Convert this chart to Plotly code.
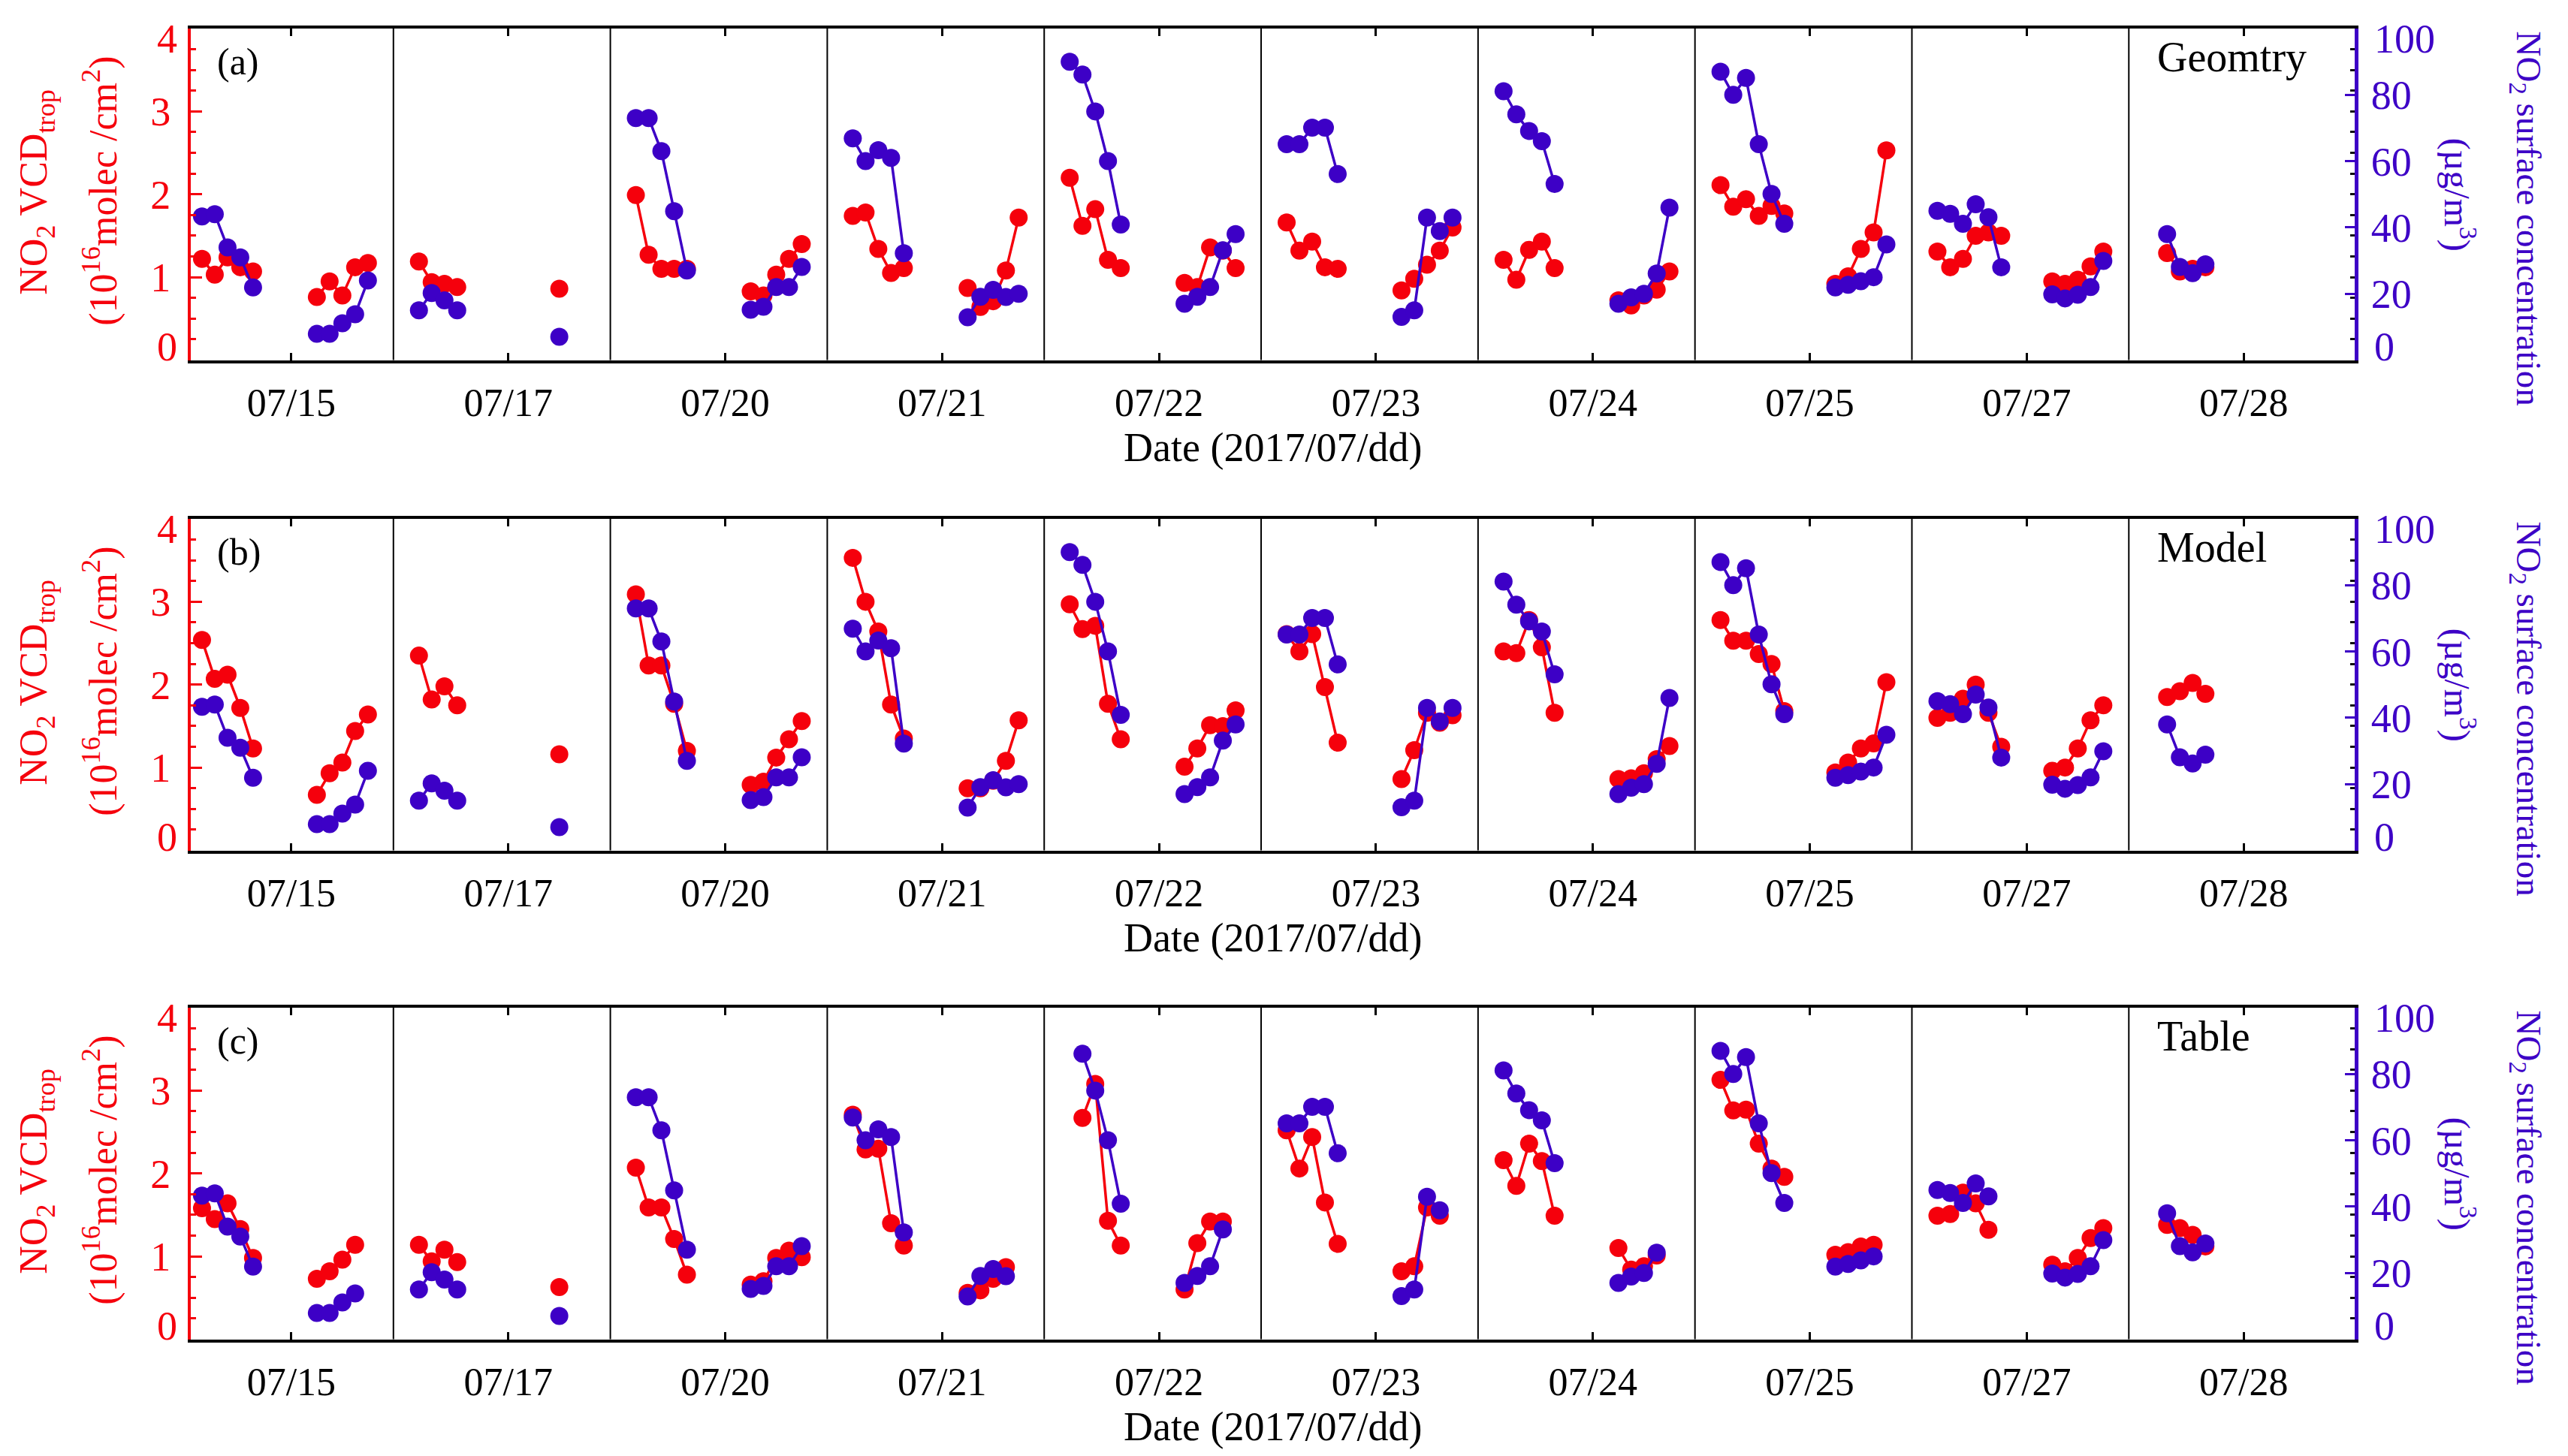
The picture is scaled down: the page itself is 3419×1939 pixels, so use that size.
import plotly.graph_objects as go

# Dates of the ten measurement days shown on the x axis
DATES = ["07/15", "07/17", "07/20", "07/21", "07/22", "07/23", "07/24", "07/25", "07/27", "07/28"]

# hourly sample index inside each day window (17 slots per day)
AM_SLOTS = [[2, 3, 4, 5, 6], [2, 3, 4, 5], [2, 3, 4, 5, 6], [2, 3, 4, 5, 6], [2, 3, 4, 5, 6],
            [2, 3, 4, 5, 6], [2, 3, 4, 5, 6], [2, 3, 4, 5, 6, 7], [2, 3, 4, 5, 6, 7], [3, 4, 5, 6]]
PM_SLOTS = [[11, 12, 13, 14, 15], [13], [11, 12, 13, 14, 15], [11, 12, 13, 14, 15], [11, 12, 13, 14, 15],
            [11, 12, 13, 14, 15], [11, 12, 13, 14, 15], [11, 12, 13, 14, 15], [11, 12, 13, 14, 15], []]

# NO2 surface concentration (ug/m3), right axis
SURF_AM = [[43.3, 44.0, 34.0, 31.0, 21.9], [15.0, 20.2, 18.0, 15.0], [73.0, 73.0, 63.0, 44.9, 27.0],
           [66.9, 60.0, 63.3, 61.0, 32.2], [90.0, 86.1, 75.0, 60.0, 40.9], [65.1, 65.1, 70.1, 70.1, 56.1],
           [81.1, 74.1, 69.1, 66.0, 53.1], [87.0, 80.0, 85.1, 65.1, 50.1, 41.1],
           [45.0, 44.1, 41.1, 47.0, 43.1, 28.0], [38.0, 28.1, 26.2, 28.9]]
SURF_PM = [[7.9, 7.9, 11.1, 13.8, 24.0], [7.0], [15.2, 16.1, 22.0, 22.0, 28.1],
           [12.9, 19.1, 21.2, 19.0, 20.0], [17.0, 19.1, 22.0, 33.1, 38.0], [13.0, 15.0, 43.0, 38.9, 43.0],
           [17.0, 18.9, 20.0, 26.1, 46.0], [21.9, 22.7, 23.8, 25.0, 34.9], [19.8, 18.6, 19.7, 22.0, 29.9], []]

# NO2 VCD trop (1e16 molec/cm2), left axis, one set per method
GEOM_AM = [[1.22, 1.03, 1.24, 1.12, 1.07], [1.19, 0.94, 0.92, 0.88], [1.99, 1.27, 1.10, 1.10, 1.10],
           [1.74, 1.78, 1.34, 1.05, 1.11], [2.20, 1.62, 1.82, 1.21, 1.11], [1.66, 1.32, 1.43, 1.12, 1.10],
           [1.21, 0.97, 1.33, 1.43, 1.11], [2.11, 1.85, 1.94, 1.74, 1.86, 1.77],
           [1.31, 1.12, 1.22, 1.50, 1.54, 1.50], [1.29, 1.07, 1.10, 1.12]]
GEOM_PM = [[0.76, 0.95, 0.78, 1.12, 1.17], [0.86], [0.83, 0.78, 1.03, 1.22, 1.40],
           [0.87, 0.64, 0.71, 1.08, 1.72], [0.93, 0.88, 1.36, 1.32, 1.11], [0.84, 0.98, 1.15, 1.32, 1.60],
           [0.72, 0.66, 0.78, 0.85, 1.07], [0.92, 1.01, 1.34, 1.54, 2.53], [0.95, 0.92, 0.97, 1.13, 1.31], []]

MODEL_AM = [[2.54, 2.07, 2.12, 1.72, 1.23], [2.35, 1.82, 1.98, 1.75], [3.09, 2.23, 2.23, 1.77, 1.20],
            [3.53, 3.00, 2.64, 1.76, 1.35], [2.97, 2.67, 2.71, 1.77, 1.34], [2.61, 2.40, 2.61, 1.97, 1.30],
            [2.40, 2.38, 2.78, 2.45, 1.66], [2.78, 2.53, 2.53, 2.37, 2.25, 1.68],
            [1.60, 1.66, 1.83, 2.00, 1.66, 1.25], [1.85, 1.92, 2.02, 1.89]]
MODEL_PM = [[0.67, 0.93, 1.06, 1.44, 1.64], [1.16], [0.79, 0.83, 1.12, 1.34, 1.56],
            [0.75, 0.75, 0.84, 1.08, 1.57], [1.01, 1.23, 1.51, 1.50, 1.69], [0.86, 1.21, 1.66, 1.54, 1.63],
            [0.86, 0.87, 0.93, 1.10, 1.26], [0.94, 1.06, 1.23, 1.29, 2.03], [0.96, 1.00, 1.23, 1.57, 1.75], []]

# None = no table retrieval for that hour (surface value dropped too)
TABLE_AM = [[1.58, 1.45, 1.64, 1.33, 0.98], [1.14, 0.94, 1.08, 0.93], [2.07, 1.59, 1.59, 1.21, 0.78],
            [2.71, 2.29, 2.30, 1.40, 1.13], [None, 2.67, 3.08, 1.43, 1.13], [2.52, 2.06, 2.44, 1.65, 1.15],
            [2.16, 1.85, 2.36, 2.15, 1.49], [3.13, 2.76, 2.77, 2.36, 2.06, 1.96],
            [1.49, 1.51, 1.77, 1.64, 1.32, None], [1.38, 1.34, 1.26, 1.12]]
TABLE_PM = [[0.73, 0.82, 0.96, 1.14, None], [0.63], [0.66, 0.70, 0.98, 1.07, 0.99],
            [0.56, 0.59, 0.73, 0.87, None], [0.60, 1.16, 1.42, 1.42, None], [0.82, 0.88, 1.59, 1.49, None],
            [1.10, 0.84, 0.88, 1.01, None], [1.02, 1.05, 1.12, 1.14, None], [0.90, 0.82, 0.98, 1.22, 1.34], []]

PANELS = [("(a)", "Geomtry", GEOM_AM, GEOM_PM, False),
          ("(b)", "Model", MODEL_AM, MODEL_PM, False),
          ("(c)", "Table", TABLE_AM, TABLE_PM, True)]

VCD_TICKS = [0, 1, 2, 3, 4]
SURF_TICKS = [0, 20, 40, 60, 80, 100]

DAY = 17
RED = "#F5000C"
BLUE = "#3D00C6"
FONT = "Liberation Serif"

# page geometry (px)
W, H = 3419, 1939
L, R, T, B = 246, 292, 30, 163
PW, PH = W - L - R, H - T - B
TOPS = [30, 683, 1334]
PANEL_H = 441.5


def fx(p):
    return (p - L) / PW


def fy(p):
    return 1 - (p - T) / PH


def build(am, pm, ref_am=None, ref_pm=None):
    xs, ys = [], []
    for d in range(len(DATES)):
        groups = [(AM_SLOTS[d], am[d], (ref_am or am)[d]), (PM_SLOTS[d], pm[d], (ref_pm or pm)[d])]
        for slots, vals, ref in groups:
            if not slots:
                continue
            for s, v, r in zip(slots, vals, ref):
                if v is None or r is None:
                    continue
                xs.append(d * DAY + s)
                ys.append(v)
            xs.append(None)
            ys.append(None)
    return xs, ys


def inner_labels(vals):
    # end labels are drawn separately, nudged inside the frame
    return [""] + [str(v) for v in vals[1:-1]] + [""]


fig = go.Figure()
layout = dict(width=W, height=H, paper_bgcolor="white", plot_bgcolor="white",
              margin=dict(l=L, r=R, t=T, b=B), showlegend=False,
              font=dict(family=FONT, size=52, color="black"))
shapes, annotations = [], []

for i, (letter, method, red_am, red_pm, masked) in enumerate(PANELS):
    n = i + 1
    xa = "x" if n == 1 else "x%d" % n
    yl = "y" if n == 1 else "y%d" % (2 * n - 1)
    yr = "y%d" % (2 * n)
    top = TOPS[i]
    bot = top + PANEL_H
    mid = top + PANEL_H / 2

    rx, ry = build(red_am, red_pm)
    if masked:
        bx, by = build(SURF_AM, SURF_PM, red_am, red_pm)
    else:
        bx, by = build(SURF_AM, SURF_PM)

    fig.add_trace(go.Scatter(x=rx, y=ry, xaxis=xa, yaxis=yl, mode="lines+markers",
                             line=dict(color=RED, width=3.5), marker=dict(color=RED, size=24),
                             name="VCD " + method))
    fig.add_trace(go.Scatter(x=bx, y=by, xaxis=xa, yaxis=yr, mode="lines+markers",
                             line=dict(color=BLUE, width=3.5), marker=dict(color=BLUE, size=24),
                             name="surface"))

    dom = [max(0, fy(bot)), fy(top)]
    layout["xaxis" if n == 1 else "xaxis%d" % n] = dict(
        domain=[0, 1], anchor=yl, range=[1.12, 170.7],
        tickvals=[d * DAY + 9 for d in range(len(DATES))], ticktext=DATES,
        ticks="inside", ticklen=10, tickwidth=3, tickcolor="black",
        showline=True, linewidth=4, linecolor="black", mirror="ticks",
        showgrid=False, zeroline=False, tickfont=dict(size=52), ticklabelstandoff=8)
    layout["yaxis" if n == 1 else "yaxis%d" % (2 * n - 1)] = dict(
        domain=dom, anchor=xa, range=[0, 4], tickvals=VCD_TICKS, ticktext=inner_labels(VCD_TICKS),
        ticks="inside", ticklen=15, tickwidth=3, tickcolor=RED,
        showline=True, linewidth=4, linecolor=RED, showgrid=False, zeroline=False,
        minor=dict(dtick=0.25, tick0=0, ticks="inside", ticklen=7, tickwidth=3, tickcolor=RED,
                   showgrid=False),
        tickfont=dict(color=RED, size=54), ticklabelstandoff=12)
    layout["yaxis%d" % (2 * n)] = dict(
        overlaying=yl, side="right", anchor=xa, range=[0, 100], tickvals=SURF_TICKS,
        ticktext=inner_labels(SURF_TICKS),
        ticks="inside", ticklen=13, tickwidth=3, tickcolor=BLUE,
        showline=True, linewidth=5, linecolor=BLUE, showgrid=False, zeroline=False,
        minor=dict(dtick=6.25, tick0=0, ticks="inside", ticklen=6, tickwidth=3, tickcolor="#101010",
                   showgrid=False),
        tickfont=dict(color=BLUE, size=54), ticklabelstandoff=6)

    for k in range(1, len(DATES)):
        shapes.append(dict(type="line", xref=xa, yref=yl + " domain", x0=k * DAY, x1=k * DAY,
                           y0=0, y1=1, line=dict(color="black", width=2), layer="below"))

    # end tick labels of both y axes, sitting just inside the frame as in the original
    for yref, vals, side, color in ((yl, VCD_TICKS, 0, RED), (yr, SURF_TICKS, 1, BLUE)):
        for v, shift in ((vals[0], 18), (vals[-1], -14)):
            fig.add_annotation(text=str(v), xref=xa + " domain", yref=yref, x=side, y=v,
                               xanchor="left" if side else "right", yanchor="middle",
                               xshift=24 if side else -16, yshift=shift, showarrow=False,
                               font=dict(size=54, color=color))

    annotations += [
        dict(text=letter, x=fx(279), y=fy(top + 44), xanchor="left", yanchor="middle",
             font=dict(size=50)),
        dict(text=method, x=fx(2862), y=fy(top + 38), xanchor="left", yanchor="middle",
             font=dict(size=56)),
        dict(text="NO<sub>2</sub> VCD<sub>trop</sub>", x=fx(41), y=fy(mid - 3), textangle=-90,
             xanchor="center", yanchor="middle", font=dict(size=52, color=RED)),
        dict(text="(10<sup>16</sup>molec /cm<sup>2</sup>)", x=fx(126), y=fy(mid - 4), textangle=-90,
             xanchor="center", yanchor="middle", font=dict(size=52, color=RED)),
        dict(text="NO<sub>2</sub> surface concentration", x=fx(3355), y=fy(top + 1), textangle=90,
             xanchor="center", yanchor="top", font=dict(size=47, color=BLUE)),
        dict(text="(\u00b5g/m<sup>3</sup>)", x=fx(3266), y=fy(mid), textangle=90,
             xanchor="center", yanchor="middle", font=dict(size=48, color=BLUE)),
        dict(text="Date (2017/07/dd)", x=fx(1686.5), y=fy(bot + 116), xanchor="center",
             yanchor="middle", font=dict(size=54)),
    ]

for a in annotations:
    a.update(xref="paper", yref="paper", showarrow=False)

layout["shapes"] = shapes
fig.update_layout(**layout)
for a in annotations:
    fig.add_annotation(**a)
fig.write_html("out.html")
